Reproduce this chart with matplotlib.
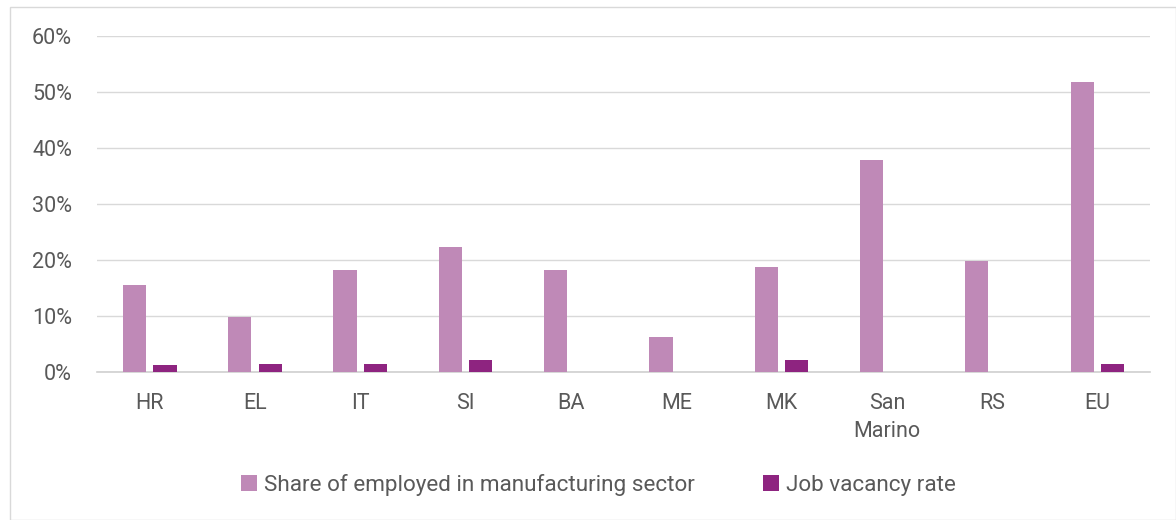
import numpy as np
import matplotlib
matplotlib.use("Agg")
from matplotlib import pyplot as plt
from matplotlib.patches import Rectangle
from matplotlib.ticker import PercentFormatter

categories = ['HR', 'EL', 'IT', 'SI', 'BA', 'ME', 'MK', 'San\nMarino', 'RS', 'EU']
share_manufacturing = [15.5, 9.8, 18.2, 22.4, 18.3, 6.2, 18.7, 37.8, 19.8, 51.8]
job_vacancy = [1.3, 1.5, 1.5, 2.1, np.nan, np.nan, 2.2, np.nan, np.nan, 1.5]

plt.rcParams['font.family'] = ['Roboto', 'DejaVu Sans']
grey_text = '#595959'

fig = plt.figure(figsize=(11.76, 5.2), dpi=100)
ax = fig.add_axes([0.0825, 0.2846, 0.8955, 0.6462])

x = np.arange(len(categories))
w = 0.22
ax.bar(x - 0.145, share_manufacturing, w, color='#BF89B7',
       label='Share of employed in manufacturing sector', zorder=3)
ax.bar(x + 0.145, job_vacancy, w, color='#8E2480',
       label='Job vacancy rate', zorder=3)

ax.set_xlim(-0.5, len(categories) - 0.5)
ax.set_ylim(0, 60)
ax.set_yticks(range(0, 61, 10))
ax.yaxis.set_major_formatter(PercentFormatter(decimals=0))
ax.grid(axis='y', color='#d9d9d9', linewidth=1, zorder=0)
for s in ['top', 'right', 'left']:
    ax.spines[s].set_visible(False)
ax.spines['bottom'].set_color('#d0d0d0')
ax.spines['bottom'].set_linewidth(1.2)
ax.set_xticks(x)
ax.set_xticklabels(categories, linespacing=1.45)
ax.tick_params(axis='both', length=0, labelsize=15.5, colors=grey_text)
ax.tick_params(axis='x', pad=15)
ax.tick_params(axis='y', pad=18)

leg = fig.legend(loc='center', bbox_to_anchor=(0.509, 0.067), ncol=2, frameon=False,
                 handlelength=0.7, handleheight=0.7,
                 handletextpad=0.35, columnspacing=3.0,
                 prop={'family': ['Roboto'], 'size': 16.2})
for t in leg.get_texts():
    t.set_color(grey_text)

fig.patches.append(Rectangle((10 / 1176, 0), 1 - 10 / 1176, 1 - 7 / 520,
                             transform=fig.transFigure, fill=False,
                             edgecolor='#d9d9d9', linewidth=1))

fig.savefig('out.png', dpi=100)
